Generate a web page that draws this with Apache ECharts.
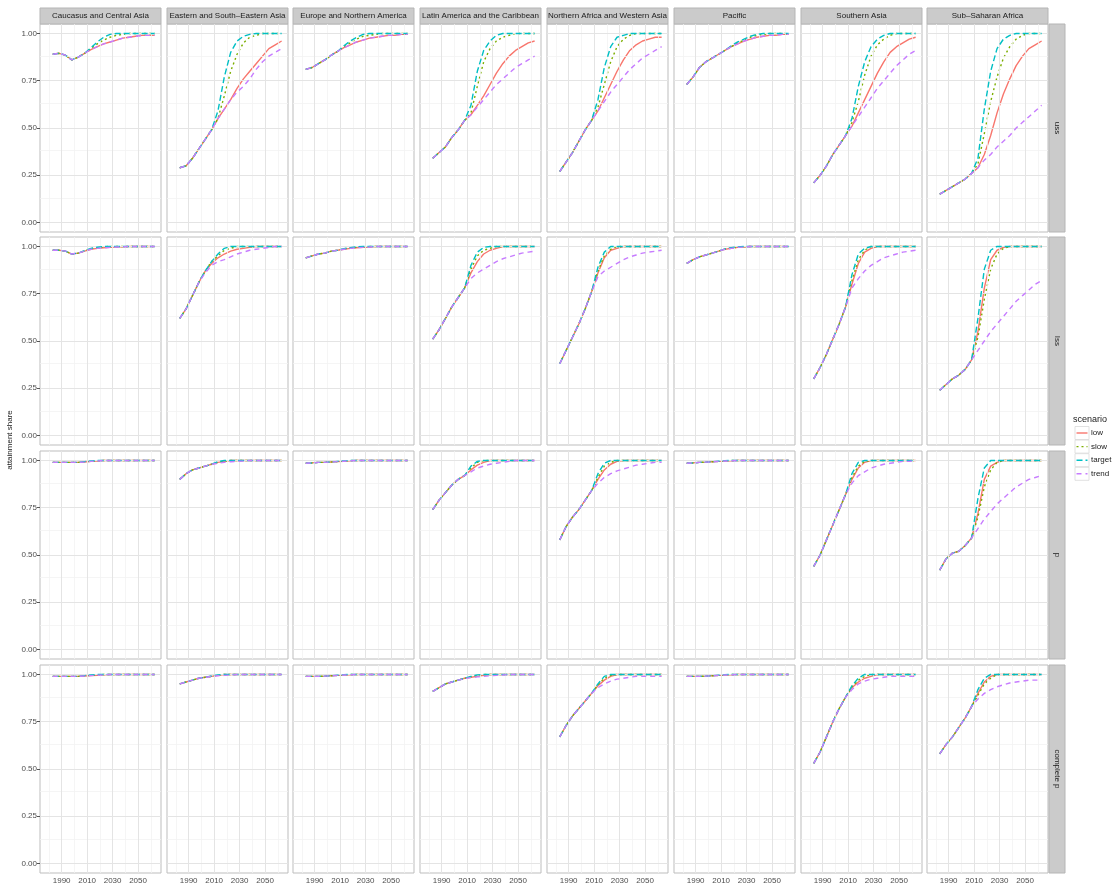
<!DOCTYPE html>
<html><head><meta charset="utf-8">
<script src="https://cdn.jsdelivr.net/npm/echarts@6/dist/echarts.min.js"></script>
<style>html,body{margin:0;padding:0;background:#fff}#c{width:1117px;height:894px}</style>
</head><body><div id="c"></div>
<script>
// ---------- data ----------
const years = [1983,1988,1993,1998,2003,2008,2013,2018,2023,2028,2033,2038,2043,2048,2053,2058,2063];
const regions = ['Caucasus and Central Asia','Eastern and South\u2013Eastern Asia','Europe and Northern America','Latin America and the Caribbean','Northern Africa and Western Asia','Pacific','Southern Asia','Sub\u2013Saharan Africa'];
const levels = ['uss','lss','p','complete p'];
const scenarios = ['low','slow','target','trend'];
const xTicks = [1990,2010,2030,2050];
const yTicks = [0,0.25,0.5,0.75,1];

// each panel: [low, slow, target, trend]
// row 1
const r1_CCA = [
 [0.89,0.895,0.885,0.86,0.875,0.895,0.915,0.93,0.945,0.955,0.965,0.975,0.98,0.985,0.99,0.99,0.99],
 [0.89,0.895,0.885,0.86,0.875,0.895,0.92,0.945,0.965,0.98,0.99,0.995,1,1,1,1,1],
 [0.89,0.895,0.885,0.86,0.875,0.895,0.925,0.955,0.98,0.995,1,1,1,1,1,1,1],
 [0.89,0.895,0.885,0.86,0.875,0.895,0.915,0.93,0.945,0.955,0.965,0.975,0.98,0.985,0.99,0.99,0.99]];
const r1_ESEA = [
 [0.29,0.30,0.34,0.39,0.44,0.49,0.55,0.60,0.65,0.71,0.76,0.80,0.84,0.88,0.92,0.94,0.96],
 [0.29,0.30,0.34,0.39,0.44,0.49,0.55,0.67,0.80,0.89,0.95,0.98,0.99,1,1,1,1],
 [0.29,0.30,0.34,0.39,0.44,0.49,0.59,0.77,0.90,0.96,0.985,0.995,1,1,1,1,1],
 [0.29,0.30,0.34,0.39,0.44,0.49,0.55,0.60,0.65,0.69,0.72,0.76,0.81,0.85,0.88,0.90,0.92]];
const r1_ENA = [
 [0.81,0.82,0.84,0.86,0.885,0.905,0.925,0.94,0.955,0.965,0.975,0.98,0.985,0.99,0.99,0.995,0.995],
 [0.81,0.82,0.84,0.86,0.885,0.905,0.93,0.95,0.97,0.985,0.99,0.995,1,1,1,1,1],
 [0.81,0.82,0.84,0.86,0.885,0.905,0.935,0.96,0.98,0.995,1,1,1,1,1,1,1],
 [0.81,0.82,0.84,0.86,0.885,0.905,0.925,0.94,0.955,0.965,0.975,0.98,0.985,0.99,0.99,0.995,0.995]];
const r1_LAC = [
 [0.34,0.37,0.40,0.45,0.49,0.54,0.57,0.62,0.67,0.73,0.79,0.84,0.88,0.91,0.93,0.95,0.96],
 [0.34,0.37,0.40,0.45,0.49,0.54,0.58,0.72,0.85,0.92,0.96,0.98,0.99,1,1,1,1],
 [0.34,0.37,0.40,0.45,0.49,0.54,0.62,0.80,0.91,0.96,0.99,1,1,1,1,1,1],
 [0.34,0.37,0.40,0.45,0.49,0.54,0.57,0.61,0.65,0.69,0.73,0.76,0.79,0.82,0.84,0.86,0.88]];
const r1_NAWA = [
 [0.27,0.32,0.37,0.43,0.49,0.54,0.59,0.66,0.73,0.80,0.86,0.91,0.94,0.96,0.97,0.98,0.98],
 [0.27,0.32,0.37,0.43,0.49,0.54,0.61,0.73,0.85,0.93,0.97,0.99,1,1,1,1,1],
 [0.27,0.32,0.37,0.43,0.49,0.54,0.65,0.82,0.93,0.98,0.99,1,1,1,1,1,1],
 [0.27,0.32,0.37,0.43,0.49,0.54,0.59,0.64,0.69,0.73,0.77,0.81,0.84,0.87,0.89,0.91,0.93]];
const r1_PAC = [
 [0.73,0.77,0.82,0.85,0.87,0.89,0.91,0.93,0.945,0.96,0.97,0.98,0.985,0.99,0.99,0.995,0.995],
 [0.73,0.77,0.82,0.85,0.87,0.89,0.91,0.93,0.95,0.965,0.98,0.99,0.995,1,1,1,1],
 [0.73,0.77,0.82,0.85,0.87,0.89,0.91,0.935,0.955,0.97,0.985,0.995,1,1,1,1,1],
 [0.73,0.77,0.82,0.85,0.87,0.89,0.91,0.93,0.945,0.96,0.97,0.98,0.985,0.99,0.99,0.995,0.995]];
const r1_SA = [
 [0.21,0.25,0.30,0.36,0.41,0.46,0.51,0.58,0.65,0.72,0.79,0.85,0.90,0.93,0.95,0.97,0.98],
 [0.21,0.25,0.30,0.36,0.41,0.46,0.53,0.64,0.78,0.88,0.94,0.97,0.99,1,1,1,1],
 [0.21,0.25,0.30,0.36,0.41,0.46,0.55,0.72,0.85,0.93,0.97,0.99,1,1,1,1,1],
 [0.21,0.25,0.30,0.36,0.41,0.46,0.51,0.56,0.61,0.66,0.71,0.75,0.79,0.83,0.86,0.89,0.91]];
const r1_SSA = [
 [0.15,0.17,0.19,0.21,0.23,0.26,0.29,0.36,0.46,0.58,0.68,0.76,0.83,0.88,0.92,0.94,0.96],
 [0.15,0.17,0.19,0.21,0.23,0.26,0.31,0.47,0.64,0.77,0.87,0.93,0.97,0.99,1,1,1],
 [0.15,0.17,0.19,0.21,0.23,0.26,0.34,0.60,0.80,0.92,0.97,0.99,1,1,1,1,1],
 [0.15,0.17,0.19,0.21,0.23,0.26,0.29,0.33,0.36,0.40,0.43,0.46,0.50,0.53,0.56,0.59,0.62]];
// row 2
const r2_CCA = [
 [0.98,0.98,0.975,0.96,0.965,0.975,0.985,0.99,0.993,0.995,0.997,0.998,1,1,1,1,1],
 [0.98,0.98,0.975,0.96,0.965,0.977,0.988,0.994,0.998,1,1,1,1,1,1,1,1],
 [0.98,0.98,0.975,0.96,0.965,0.978,0.99,0.996,1,1,1,1,1,1,1,1,1],
 [0.98,0.98,0.975,0.96,0.965,0.975,0.985,0.99,0.993,0.995,0.997,0.998,1,1,1,1,1]];
const r2_ESEA = [
 [0.62,0.67,0.74,0.81,0.87,0.91,0.94,0.96,0.975,0.985,0.99,0.995,1,1,1,1,1],
 [0.62,0.67,0.74,0.81,0.87,0.92,0.95,0.98,0.99,1,1,1,1,1,1,1,1],
 [0.62,0.67,0.74,0.81,0.87,0.92,0.96,0.99,1,1,1,1,1,1,1,1,1],
 [0.62,0.67,0.74,0.81,0.86,0.90,0.92,0.93,0.945,0.96,0.97,0.98,0.985,0.99,0.995,1,1]];
const r2_ENA = [
 [0.94,0.95,0.96,0.965,0.975,0.98,0.985,0.99,0.993,0.995,0.997,1,1,1,1,1,1],
 [0.94,0.95,0.96,0.965,0.975,0.98,0.987,0.992,0.996,0.998,1,1,1,1,1,1,1],
 [0.94,0.95,0.96,0.965,0.975,0.98,0.988,0.994,0.998,1,1,1,1,1,1,1,1],
 [0.94,0.95,0.96,0.965,0.975,0.98,0.985,0.99,0.993,0.995,0.997,1,1,1,1,1,1]];
const r2_LAC = [
 [0.51,0.56,0.62,0.68,0.73,0.78,0.86,0.92,0.96,0.98,0.99,1,1,1,1,1,1],
 [0.51,0.56,0.62,0.68,0.73,0.78,0.88,0.95,0.98,0.99,1,1,1,1,1,1,1],
 [0.51,0.56,0.62,0.68,0.73,0.78,0.90,0.97,0.995,1,1,1,1,1,1,1,1],
 [0.51,0.56,0.62,0.68,0.73,0.78,0.83,0.86,0.88,0.90,0.92,0.935,0.945,0.955,0.965,0.97,0.975]];
const r2_NAWA = [
 [0.38,0.45,0.52,0.59,0.67,0.76,0.86,0.94,0.98,0.99,1,1,1,1,1,1,1],
 [0.38,0.45,0.52,0.59,0.67,0.76,0.87,0.95,0.985,1,1,1,1,1,1,1,1],
 [0.38,0.45,0.52,0.59,0.67,0.76,0.89,0.97,1,1,1,1,1,1,1,1,1],
 [0.38,0.45,0.52,0.59,0.67,0.76,0.84,0.87,0.89,0.91,0.93,0.945,0.955,0.965,0.97,0.975,0.98]];
const r2_PAC = [
 [0.91,0.93,0.945,0.955,0.965,0.975,0.985,0.99,0.995,0.997,1,1,1,1,1,1,1],
 [0.91,0.93,0.945,0.955,0.965,0.975,0.986,0.992,0.996,0.999,1,1,1,1,1,1,1],
 [0.91,0.93,0.945,0.955,0.965,0.975,0.987,0.994,0.998,1,1,1,1,1,1,1,1],
 [0.91,0.93,0.945,0.955,0.965,0.975,0.985,0.99,0.995,0.997,1,1,1,1,1,1,1]];
const r2_SA = [
 [0.30,0.36,0.43,0.51,0.59,0.68,0.80,0.91,0.97,0.99,1,1,1,1,1,1,1],
 [0.30,0.36,0.43,0.51,0.59,0.68,0.82,0.93,0.98,1,1,1,1,1,1,1,1],
 [0.30,0.36,0.43,0.51,0.59,0.68,0.85,0.96,0.99,1,1,1,1,1,1,1,1],
 [0.30,0.36,0.43,0.51,0.59,0.68,0.78,0.83,0.87,0.90,0.92,0.94,0.95,0.96,0.97,0.975,0.98]];
const r2_SSA = [
 [0.24,0.27,0.30,0.32,0.35,0.40,0.55,0.78,0.93,0.98,0.995,1,1,1,1,1,1],
 [0.24,0.27,0.30,0.32,0.35,0.40,0.52,0.72,0.88,0.96,0.99,1,1,1,1,1,1],
 [0.24,0.27,0.30,0.32,0.35,0.40,0.62,0.88,0.98,1,1,1,1,1,1,1,1],
 [0.24,0.27,0.30,0.32,0.35,0.40,0.45,0.50,0.55,0.59,0.63,0.67,0.71,0.74,0.77,0.80,0.82]];
// row 3
const r3_CCA = [
 [0.99,0.99,0.99,0.99,0.99,0.992,0.995,0.997,1,1,1,1,1,1,1,1,1],
 [0.99,0.99,0.99,0.99,0.99,0.993,0.996,0.998,1,1,1,1,1,1,1,1,1],
 [0.99,0.99,0.99,0.99,0.99,0.994,0.997,1,1,1,1,1,1,1,1,1,1],
 [0.99,0.99,0.99,0.99,0.99,0.992,0.995,0.997,1,1,1,1,1,1,1,1,1]];
const r3_ESEA = [
 [0.90,0.93,0.95,0.96,0.97,0.98,0.99,0.995,1,1,1,1,1,1,1,1,1],
 [0.90,0.93,0.95,0.96,0.97,0.98,0.99,0.997,1,1,1,1,1,1,1,1,1],
 [0.90,0.93,0.95,0.96,0.97,0.98,0.993,1,1,1,1,1,1,1,1,1,1],
 [0.90,0.93,0.95,0.96,0.97,0.98,0.985,0.99,0.993,0.995,0.997,1,1,1,1,1,1]];
const r3_ENA = [
 [0.985,0.987,0.99,0.99,0.992,0.994,0.996,0.998,1,1,1,1,1,1,1,1,1],
 [0.985,0.987,0.99,0.99,0.992,0.994,0.997,0.999,1,1,1,1,1,1,1,1,1],
 [0.985,0.987,0.99,0.99,0.992,0.995,0.998,1,1,1,1,1,1,1,1,1,1],
 [0.985,0.987,0.99,0.99,0.992,0.994,0.996,0.998,1,1,1,1,1,1,1,1,1]];
const r3_LAC = [
 [0.74,0.79,0.83,0.87,0.90,0.92,0.95,0.975,0.99,1,1,1,1,1,1,1,1],
 [0.74,0.79,0.83,0.87,0.90,0.92,0.96,0.99,1,1,1,1,1,1,1,1,1],
 [0.74,0.79,0.83,0.87,0.90,0.92,0.97,0.995,1,1,1,1,1,1,1,1,1],
 [0.74,0.79,0.83,0.87,0.90,0.92,0.94,0.96,0.97,0.98,0.985,0.99,0.995,1,1,1,1]];
const r3_NAWA = [
 [0.58,0.65,0.70,0.74,0.79,0.84,0.90,0.95,0.98,0.995,1,1,1,1,1,1,1],
 [0.58,0.65,0.70,0.74,0.79,0.84,0.91,0.97,0.99,1,1,1,1,1,1,1,1],
 [0.58,0.65,0.70,0.74,0.79,0.84,0.93,0.985,1,1,1,1,1,1,1,1,1],
 [0.58,0.65,0.70,0.74,0.79,0.84,0.88,0.91,0.93,0.945,0.955,0.965,0.975,0.98,0.985,0.99,0.99]];
const r3_PAC = [
 [0.985,0.987,0.99,0.991,0.993,0.995,0.997,0.998,1,1,1,1,1,1,1,1,1],
 [0.985,0.987,0.99,0.991,0.993,0.995,0.998,1,1,1,1,1,1,1,1,1,1],
 [0.985,0.987,0.99,0.991,0.993,0.996,0.999,1,1,1,1,1,1,1,1,1,1],
 [0.985,0.987,0.99,0.991,0.993,0.995,0.997,0.998,1,1,1,1,1,1,1,1,1]];
const r3_SA = [
 [0.44,0.50,0.58,0.66,0.74,0.82,0.90,0.96,0.99,1,1,1,1,1,1,1,1],
 [0.44,0.50,0.58,0.66,0.74,0.82,0.91,0.97,0.995,1,1,1,1,1,1,1,1],
 [0.44,0.50,0.58,0.66,0.74,0.82,0.93,0.99,1,1,1,1,1,1,1,1,1],
 [0.44,0.50,0.58,0.66,0.74,0.82,0.88,0.92,0.94,0.96,0.97,0.98,0.985,0.99,0.995,0.995,1]];
const r3_SSA = [
 [0.42,0.48,0.51,0.52,0.55,0.59,0.72,0.90,0.97,0.99,1,1,1,1,1,1,1],
 [0.42,0.48,0.51,0.52,0.55,0.59,0.70,0.86,0.95,0.99,1,1,1,1,1,1,1],
 [0.42,0.48,0.51,0.52,0.55,0.59,0.80,0.96,1,1,1,1,1,1,1,1,1],
 [0.42,0.48,0.51,0.52,0.55,0.59,0.64,0.69,0.73,0.77,0.80,0.83,0.86,0.88,0.90,0.91,0.92]];
// row 4
const r4_CCA = [
 [0.99,0.99,0.99,0.99,0.99,0.992,0.994,0.996,0.998,1,1,1,1,1,1,1,1],
 [0.99,0.99,0.99,0.99,0.99,0.993,0.996,0.998,1,1,1,1,1,1,1,1,1],
 [0.99,0.99,0.99,0.99,0.99,0.994,0.997,1,1,1,1,1,1,1,1,1,1],
 [0.99,0.99,0.99,0.99,0.99,0.992,0.994,0.996,0.998,1,1,1,1,1,1,1,1]];
const r4_ESEA = [
 [0.95,0.96,0.97,0.98,0.985,0.99,0.995,1,1,1,1,1,1,1,1,1,1],
 [0.95,0.96,0.97,0.98,0.985,0.99,0.996,1,1,1,1,1,1,1,1,1,1],
 [0.95,0.96,0.97,0.98,0.985,0.992,0.998,1,1,1,1,1,1,1,1,1,1],
 [0.95,0.96,0.97,0.98,0.985,0.99,0.993,0.995,0.997,1,1,1,1,1,1,1,1]];
const r4_ENA = [
 [0.99,0.99,0.99,0.991,0.993,0.995,0.997,0.998,1,1,1,1,1,1,1,1,1],
 [0.99,0.99,0.99,0.991,0.993,0.995,0.998,1,1,1,1,1,1,1,1,1,1],
 [0.99,0.99,0.99,0.991,0.993,0.996,0.999,1,1,1,1,1,1,1,1,1,1],
 [0.99,0.99,0.99,0.991,0.993,0.995,0.997,0.998,1,1,1,1,1,1,1,1,1]];
const r4_LAC = [
 [0.91,0.93,0.95,0.96,0.97,0.98,0.985,0.99,0.995,1,1,1,1,1,1,1,1],
 [0.91,0.93,0.95,0.96,0.97,0.98,0.988,0.995,1,1,1,1,1,1,1,1,1],
 [0.91,0.93,0.95,0.96,0.97,0.98,0.99,0.998,1,1,1,1,1,1,1,1,1],
 [0.91,0.93,0.95,0.96,0.97,0.978,0.983,0.987,0.99,0.993,0.995,0.997,1,1,1,1,1]];
const r4_NAWA = [
 [0.67,0.73,0.78,0.82,0.86,0.90,0.94,0.97,0.99,1,1,1,1,1,1,1,1],
 [0.67,0.73,0.78,0.82,0.86,0.90,0.945,0.98,0.995,1,1,1,1,1,1,1,1],
 [0.67,0.73,0.78,0.82,0.86,0.90,0.95,0.99,1,1,1,1,1,1,1,1,1],
 [0.67,0.73,0.78,0.82,0.86,0.90,0.93,0.95,0.965,0.975,0.98,0.985,0.99,0.99,0.99,0.99,0.99]];
const r4_PAC = [
 [0.99,0.99,0.99,0.991,0.993,0.995,0.997,0.998,1,1,1,1,1,1,1,1,1],
 [0.99,0.99,0.99,0.991,0.993,0.995,0.998,1,1,1,1,1,1,1,1,1,1],
 [0.99,0.99,0.99,0.991,0.993,0.996,0.999,1,1,1,1,1,1,1,1,1,1],
 [0.99,0.99,0.99,0.991,0.993,0.995,0.997,0.998,1,1,1,1,1,1,1,1,1]];
const r4_SA = [
 [0.53,0.59,0.67,0.75,0.82,0.88,0.93,0.96,0.98,0.99,1,1,1,1,1,1,1],
 [0.53,0.59,0.67,0.75,0.82,0.88,0.935,0.97,0.99,1,1,1,1,1,1,1,1],
 [0.53,0.59,0.67,0.75,0.82,0.88,0.94,0.98,1,1,1,1,1,1,1,1,1],
 [0.53,0.59,0.67,0.75,0.82,0.88,0.92,0.95,0.965,0.975,0.98,0.985,0.99,0.99,0.99,0.99,0.99]];
const r4_SSA = [
 [0.58,0.63,0.67,0.72,0.77,0.83,0.90,0.96,0.99,1,1,1,1,1,1,1,1],
 [0.58,0.63,0.67,0.72,0.77,0.83,0.89,0.95,0.98,1,1,1,1,1,1,1,1],
 [0.58,0.63,0.67,0.72,0.77,0.83,0.92,0.98,1,1,1,1,1,1,1,1,1],
 [0.58,0.63,0.67,0.72,0.77,0.83,0.87,0.90,0.92,0.935,0.945,0.955,0.96,0.965,0.97,0.97,0.97]];

const panels = [
 [r1_CCA,r1_ESEA,r1_ENA,r1_LAC,r1_NAWA,r1_PAC,r1_SA,r1_SSA],
 [r2_CCA,r2_ESEA,r2_ENA,r2_LAC,r2_NAWA,r2_PAC,r2_SA,r2_SSA],
 [r3_CCA,r3_ESEA,r3_ENA,r3_LAC,r3_NAWA,r3_PAC,r3_SA,r3_SSA],
 [r4_CCA,r4_ESEA,r4_ENA,r4_LAC,r4_NAWA,r4_PAC,r4_SA,r4_SSA]];

// ---------- layout / style ----------
const colLeft = [40,167,293,420,547,674,801,927];
const rowTop = [24,237,451,665];
const PW = 121, PH = 208;
const colors = ['#F8766D','#7CAE00','#00BFC4','#C77CFF'];
const dashes = ['solid',[2,3],[6,3],[5,4]];
const FONT = 'Liberation Sans, Arial, sans-serif';
const xMinor = [1980,2000,2020,2040,2060];
const yMinor = [0.125,0.375,0.625,0.875];

const grid = [], xAxis = [], yAxis = [], series = [];
for (let r = 0; r < 4; r++) {
  for (let c = 0; c < 8; c++) {
    const g = r * 8 + c;
    grid.push({left: colLeft[c], top: rowTop[r], width: PW, height: PH, show: true,
      backgroundColor: '#ffffff', borderColor: '#bdbdbd', borderWidth: 1});
    xAxis.push({type: 'value', gridIndex: g, min: 1973, max: 2068,
      axisLine: {show: false}, splitLine: {show: false},
      axisTick: {show: r === 3, length: 3, customValues: xTicks, lineStyle: {color: '#555'}},
      axisLabel: {show: r === 3, customValues: xTicks, fontSize: 8, color: '#4d4d4d', margin: 4, fontFamily: FONT,
        formatter: v => String(v)}});
    yAxis.push({type: 'value', gridIndex: g, min: -0.05, max: 1.05,
      axisLine: {show: false}, splitLine: {show: false},
      axisTick: {show: c === 0, length: 3, customValues: yTicks, lineStyle: {color: '#555'}},
      axisLabel: {show: c === 0, customValues: yTicks, fontSize: 8, color: '#4d4d4d', margin: 3, fontFamily: FONT,
        formatter: v => v.toFixed(2)}});
    const ml = [];
    xMinor.forEach(v => ml.push({xAxis: v, lineStyle: {color: '#f3f3f3', width: 0.8, type: 'solid'}}));
    yMinor.forEach(v => ml.push({yAxis: v, lineStyle: {color: '#f3f3f3', width: 0.8, type: 'solid'}}));
    xTicks.forEach(v => ml.push({xAxis: v, lineStyle: {color: '#e4e4e4', width: 1, type: 'solid'}}));
    yTicks.forEach(v => ml.push({yAxis: v, lineStyle: {color: '#e4e4e4', width: 1, type: 'solid'}}));
    series.push({type: 'line', name: 'grid' + g, xAxisIndex: g, yAxisIndex: g, data: [], silent: true, z: 1,
      markLine: {silent: true, symbol: ['none', 'none'], label: {show: false}, animation: false,
        emphasis: {disabled: true}, data: ml}});
    const p = panels[r][c];
    for (let s = 0; s < 4; s++) {
      series.push({type: 'line', name: scenarios[s], xAxisIndex: g, yAxisIndex: g,
        data: years.map((y, i) => [y, p[s][i]]), symbol: 'none', showSymbol: false,
        silent: true, z: 3 + s, animation: false,
        itemStyle: {color: colors[s]},
        lineStyle: {color: colors[s], width: 1.4, type: dashes[s]}});
    }
  }
}

const graphic = [];
// top strips
for (let c = 0; c < 8; c++) {
  graphic.push({type: 'rect', shape: {x: colLeft[c], y: 8, width: PW, height: 16},
    style: {fill: '#cbcbcb', stroke: '#b5b5b5', lineWidth: 1}, silent: true});
  graphic.push({type: 'text', x: colLeft[c] + PW / 2, y: 16,
    style: {text: regions[c], fill: '#1a1a1a', fontSize: 8, fontFamily: FONT, align: 'center', verticalAlign: 'middle'}, silent: true});
}
// right strips
for (let r = 0; r < 4; r++) {
  graphic.push({type: 'rect', shape: {x: 1049, y: rowTop[r], width: 16, height: PH},
    style: {fill: '#cbcbcb', stroke: '#b5b5b5', lineWidth: 1}, silent: true});
  graphic.push({type: 'text', x: 1057, y: rowTop[r] + PH / 2, rotation: -Math.PI / 2,
    style: {text: levels[r], fill: '#1a1a1a', fontSize: 8, fontFamily: FONT, align: 'center', verticalAlign: 'middle'}, silent: true});
}
// y axis title
graphic.push({type: 'text', x: 10, y: 440, rotation: Math.PI / 2,
  style: {text: 'attainment share', fill: '#1a1a1a', fontSize: 8, fontFamily: FONT, align: 'center', verticalAlign: 'middle'}, silent: true});
// legend (drawn manually: title, keys, labels)
graphic.push({type: 'text', x: 1073, y: 420,
  style: {text: 'scenario', fill: '#1a1a1a', fontSize: 9, fontFamily: FONT, align: 'left', verticalAlign: 'middle'}, silent: true});
for (let s = 0; s < 4; s++) {
  const cy = 433 + s * 13.6;
  graphic.push({type: 'rect', shape: {x: 1075, y: cy - 6.5, width: 14, height: 13},
    style: {fill: '#ffffff', stroke: '#d9d9d9', lineWidth: 0.8}, silent: true});
  graphic.push({type: 'line', shape: {x1: 1076.5, y1: cy, x2: 1087.5, y2: cy},
    style: {stroke: colors[s], lineWidth: 1.4, lineDash: dashes[s] === 'solid' ? null : dashes[s]}, silent: true});
  graphic.push({type: 'text', x: 1091, y: cy,
    style: {text: scenarios[s], fill: '#1a1a1a', fontSize: 8, fontFamily: FONT, align: 'left', verticalAlign: 'middle'}, silent: true});
}

const chart = echarts.init(document.getElementById('c'), null, {renderer: 'canvas'});
chart.setOption({
  animation: false,
  backgroundColor: '#ffffff',
  grid, xAxis, yAxis, series, graphic
});
</script></body></html>
